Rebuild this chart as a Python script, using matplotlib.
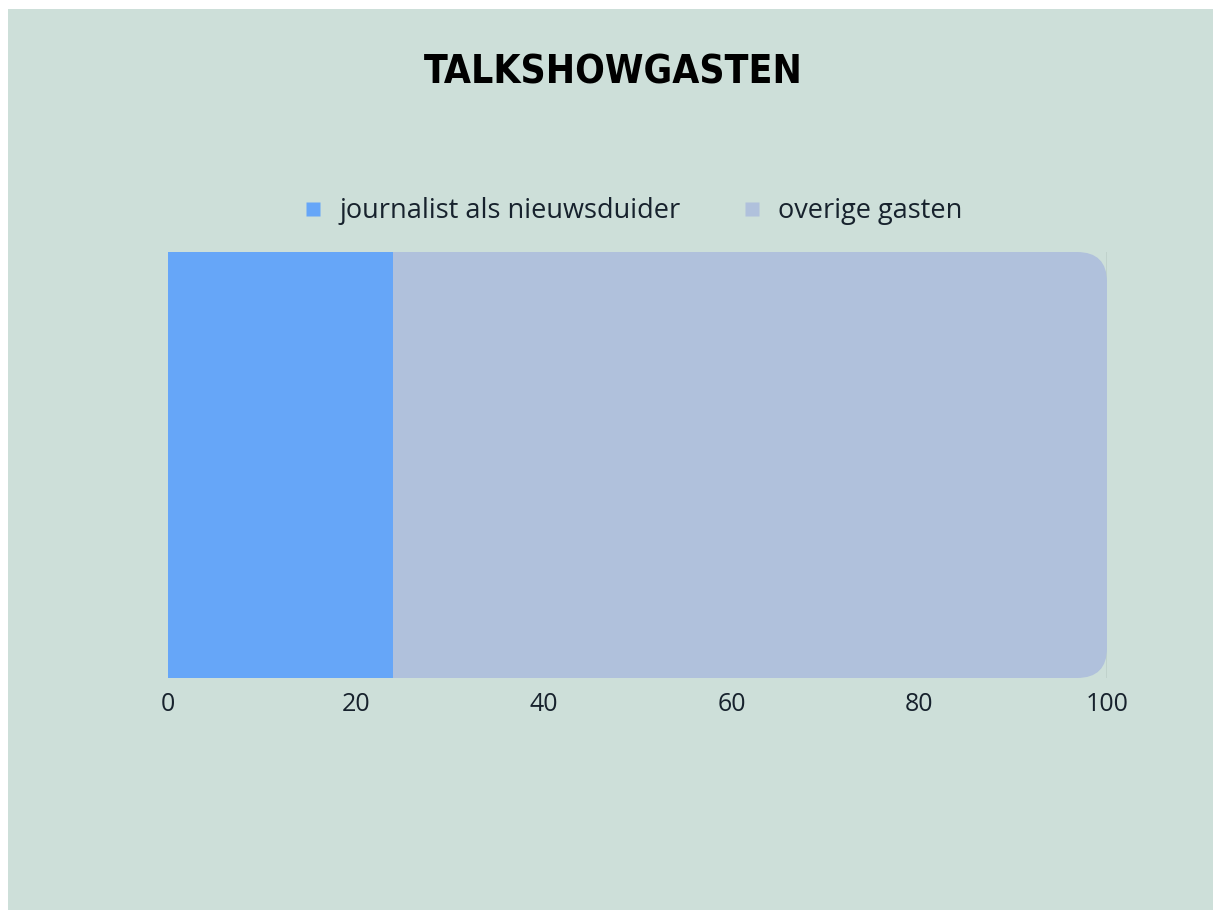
import matplotlib.pyplot as plt
from matplotlib.patches import FancyBboxPatch, Rectangle
from matplotlib.lines import Line2D

# Talkshowgasten: aandeel journalisten als nieuwsduider
series = ["journalist als nieuwsduider", "overige gasten"]
values = [24, 76]
colors = ["#66a6f8", "#b0c1dc"]
xticks = [0, 20, 40, 60, 80, 100]

bg = "#cddfd9"
ink = "#17222d"

fig = plt.figure(figsize=(12.15, 9.11), dpi=100, facecolor="white")
W, H = 1215, 911
# green card with a thin white margin around it
fig.patches.append(Rectangle((8 / W, 1 - 910 / H), 1205 / W, 901 / H,
                             transform=fig.transFigure, facecolor=bg,
                             edgecolor="none", zorder=-5))

ax = fig.add_axes([168 / W, 1 - 678 / H, 939 / W, 426 / H])
ax.set_facecolor("none")

left = 0
bars = []
for val, col in zip(values, colors):
    b = ax.barh(0, val, left=left, height=1.0, color=col, zorder=2)
    bars.append(b[0])
    left += val

ax.set_xlim(0, 100)
ax.set_ylim(-0.5, 0.5)

# round the right end of the stacked bar
px_x = 939 / 100
px_y = 426 / 1.0
r = 30 / px_x
clip = FancyBboxPatch((-20, -0.5), 120, 1.0,
                      boxstyle=f"round,pad=0,rounding_size={r}",
                      mutation_aspect=px_x / px_y,
                      transform=ax.transData, facecolor="none",
                      edgecolor="none")
ax.add_patch(clip)
bars[-1].set_clip_path(clip)

ax.set_xticks(xticks)
ax.set_yticks([])
ax.grid(axis="x", color="#8e9d98", lw=1, zorder=0)
ax.set_axisbelow(True)
for s in ax.spines.values():
    s.set_visible(False)
ax.tick_params(axis="x", length=0, pad=10, labelsize=18, labelcolor=ink)
for lab in ax.get_xticklabels():
    lab.set_family(["Open Sans", "DejaVu Sans"])
    lab.set_fontweight("medium")

fig.text(613 / W, 1 - 72 / H, "TALKSHOWGASTEN", ha="center", va="center",
         fontsize=28, fontweight="heavy", fontstretch="condensed",
         color="black", family="DejaVu Sans")

handles = [Line2D([], [], ls="none", marker="s", markersize=9.5,
                  markerfacecolor=c, markeredgecolor="none") for c in colors]
fig.legend(handles, series, loc="center", ncol=2,
           bbox_to_anchor=(633 / W, 1 - 211 / H), frameon=False,
           handlelength=0.7, handletextpad=0.6, columnspacing=2.3,
           prop={"family": "Open Sans", "size": 19.5, "weight": "medium"},
           labelcolor=ink)

fig.savefig("out.png", dpi=100, facecolor="white")
